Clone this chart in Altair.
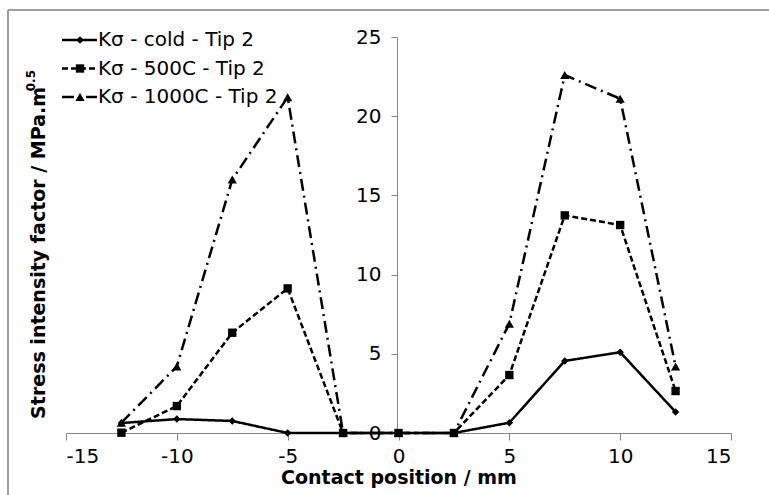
import altair as alt
import pandas as pd

series = ["Kσ - cold - Tip 2", "Kσ - 500C - Tip 2", "Kσ - 1000C - Tip 2"]
positions = [-12.5, -10, -7.5, -5, -2.5, 0, 2.5, 5, 7.5, 10, 12.5]
k_cold = [0.63, 0.88, 0.76, 0.0, 0.0, 0.0, 0.0, 0.65, 4.55, 5.1, 1.33]
k_500 = [0.02, 1.7, 6.33, 9.13, 0.0, 0.0, 0.0, 3.66, 13.74, 13.13, 2.65]
k_1000 = [0.65, 4.2, 16.0, 21.2, 0.0, 0.0, 0.0, 6.9, 22.6, 21.1, 4.2]
x_ticks = [-15, -10, -5, 0, 5, 10, 15]
y_ticks = [0, 5, 10, 15, 20, 25]

rows = []
for name, vals in zip(series, [k_cold, k_500, k_1000]):
    for p, v in zip(positions, vals):
        rows.append({"series": name, "pos": p, "k": v})
df = pd.DataFrame(rows)
leg = pd.DataFrame({"series": series, "row": [0, 1, 2]})
one = pd.DataFrame({"a": [0]})

FONT = "DejaVu Sans"
AX = "#868686"

dash_scale = alt.Scale(domain=series, range=[[1, 0], [6, 3], [12, 5, 2, 5]])
shape_scale = alt.Scale(domain=series, range=["diamond", "square", "triangle-up"])
size_scale = alt.Scale(domain=series, range=[55, 85, 80])

xenc = alt.X("pos:Q", scale=alt.Scale(domain=[-15, 15], nice=False),
             axis=alt.Axis(values=x_ticks, grid=False, domainColor=AX, tickColor=AX,
                           tickSize=7, labelFontSize=20, labelFont=FONT, labelColor="black",
                           labelPadding=6, labelExpr="toString(datum.value)",
                           title="Contact position / mm", titleFont=FONT, titleFontSize=19,
                           titleFontWeight="bold", titleColor="black", titlePadding=2))
yenc = alt.Y("k:Q", scale=alt.Scale(domain=[0, 25], nice=False),
             axis=alt.Axis(values=y_ticks, grid=False, domainColor=AX, tickColor=AX,
                           tickSize=6, labelFontSize=20, labelFont=FONT, labelColor="black",
                           labelPadding=10, offset=-331, title=None))

base = alt.Chart(df).encode(x=xenc, y=yenc)
lines = base.mark_line(color="black", strokeWidth=2.5).encode(
    strokeDash=alt.StrokeDash("series:N", scale=dash_scale, legend=None),
    detail="series:N")
points = base.mark_point(filled=True, color="black", opacity=1).encode(
    shape=alt.Shape("series:N", scale=shape_scale, legend=None),
    size=alt.Size("series:N", scale=size_scale, legend=None))
main = alt.layer(lines, points)

legy = alt.Y("row:O", scale=alt.Scale(type="point", domain=[0, 1, 2], range=[3, 60], padding=0), axis=None)
leg_lines = alt.Chart(leg).mark_rule(color="black", strokeWidth=2.5).encode(
    x=alt.value(-4), x2=alt.value(31), y=legy,
    strokeDash=alt.StrokeDash("series:N", scale=dash_scale, legend=None))
leg_pts = alt.Chart(leg).mark_point(filled=True, color="black", opacity=1).encode(
    x=alt.value(14), y=legy,
    shape=alt.Shape("series:N", scale=shape_scale, legend=None),
    size=alt.Size("series:N", scale=size_scale, legend=None))
leg_text = alt.Chart(leg).mark_text(align="left", baseline="middle", fontSize=20, font=FONT,
                                    color="black").encode(
    x=alt.value(32), y=legy, text="series:N")
legend = alt.layer(leg_lines, leg_pts, leg_text)

ytitle = alt.Chart(one).mark_text(angle=270, align="right", baseline="middle", fontSize=19,
                                  font=FONT, fontWeight="bold", color="black").encode(
    x=alt.value(-27), y=alt.value(50), text=alt.value("Stress intensity factor / MPa.m"))
ysup = alt.Chart(one).mark_text(angle=270, align="right", baseline="middle", fontSize=12,
                                font=FONT, fontWeight="bold", color="black").encode(
    x=alt.value(-35), y=alt.value(33), text=alt.value("0.5"))

frame_top = alt.Chart(one).mark_rule(color="#7f7f7f", strokeWidth=1.5).encode(
    x=alt.value(-58), x2=alt.value(710), y=alt.value(-27))
frame_left = alt.Chart(one).mark_rule(color="#7f7f7f", strokeWidth=1.5).encode(
    x=alt.value(-58), y=alt.value(-27), y2=alt.value(470))

chart = alt.layer(frame_top, frame_left, main, legend, ytitle, ysup).resolve_scale(
    y="independent").properties(
    width=665, height=396,
    autosize=alt.AutoSizeParams(type="none"),
    padding={"left": 66, "top": 37, "right": 38, "bottom": 62},
).configure_view(stroke=None)

chart.save("out.html", embed_options={"renderer": "svg", "actions": False})
